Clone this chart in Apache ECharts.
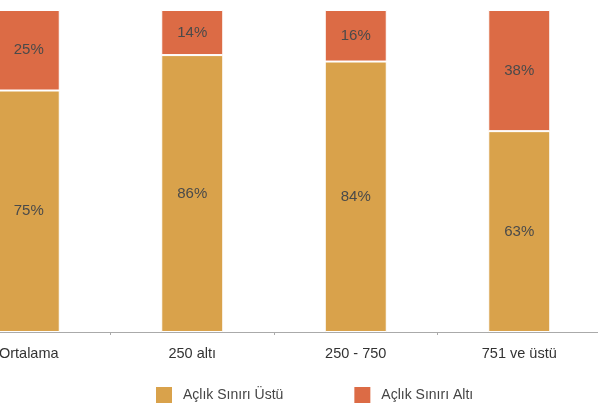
<!DOCTYPE html>
<html>
<head>
<meta charset="utf-8">
<script src="https://cdn.jsdelivr.net/npm/echarts@6/dist/echarts.min.js"></script>
<style>
html,body{margin:0;padding:0;background:#fff;overflow:hidden;width:598px;height:403px;}
#c{position:absolute;left:-53px;top:0;width:654px;height:403px;}
</style>
</head>
<body>
<div id="c"></div>
<script>
const categories = ['Ortalama', '250 altı', '250 - 750', '751 ve üstü'];
const seriesNames = ['Açlık Sınırı Üstü', 'Açlık Sınırı Altı'];
const ustu = [75, 86, 84, 63];
const alti = [25, 14, 16, 38];

const totals = ustu.map((v, i) => v + alti[i]);
function share(arr) {
  return arr.map((v, i) => ({ value: v / totals[i] * 100, label: v }));
}

const chart = echarts.init(document.getElementById('c'));
const font = '"Liberation Sans", Arial, Helvetica, sans-serif';
function mkSeries(name, arr, color) {
  return {
    name: name,
    type: 'bar',
    stack: 'total',
    barWidth: 62,
    data: share(arr),
    itemStyle: { color: color, borderColor: '#fff', borderWidth: 1 },
    label: {
      show: true,
      position: 'inside',
      color: '#4a4a4a',
      fontSize: 15,
      fontFamily: font,
      formatter: p => p.data.label + '%'
    }
  };
}
chart.setOption({
  animation: false,
  textStyle: { fontFamily: font },
  grid: { left: 0, width: 654, top: 10, bottom: 71 },
  legend: {
    left: 149 + 53,
    top: 380,
    itemWidth: 18,
    itemHeight: 18,
    itemGap: 69,
    icon: 'rect',
    textStyle: { color: '#444', fontSize: 14, fontFamily: font, padding: [0, 0, 0, 5] },
    data: seriesNames
  },
  xAxis: {
    type: 'category',
    data: categories,
    axisLine: { lineStyle: { color: '#aaa', width: 1 } },
    axisTick: { show: true, length: 3, lineStyle: { color: '#aaa' } },
    axisLabel: { color: '#333', fontSize: 14.5, fontFamily: font, margin: 14 }
  },
  yAxis: {
    type: 'value',
    min: 0,
    max: 100,
    show: false,
    splitLine: { show: false }
  },
  series: [
    mkSeries(seriesNames[0], ustu, '#D9A24B'),
    mkSeries(seriesNames[1], alti, '#DC6B45')
  ]
});
</script>
</body>
</html>
